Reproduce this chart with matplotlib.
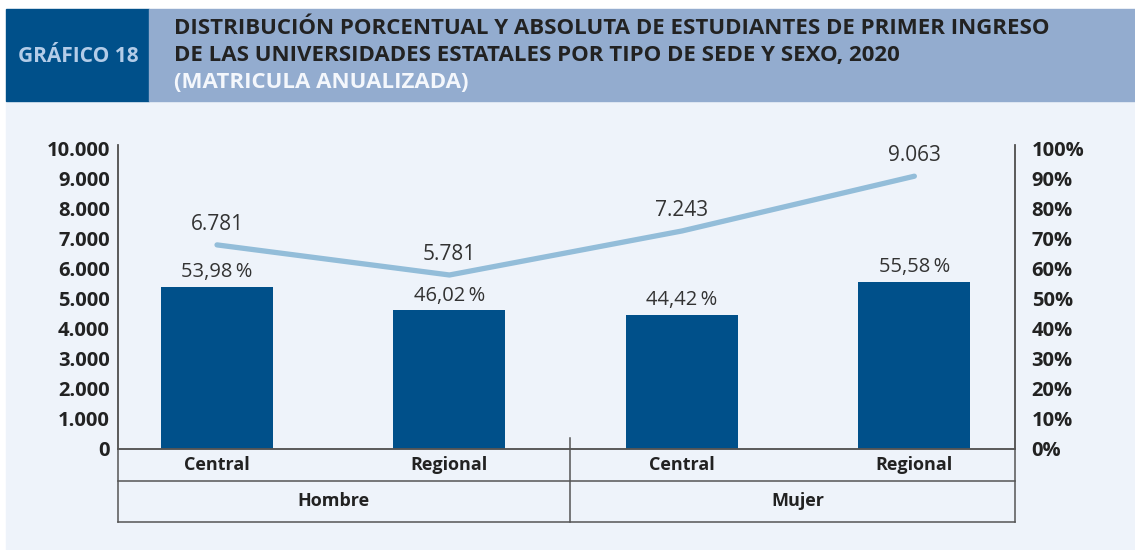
import matplotlib
matplotlib.use("Agg")
import matplotlib.pyplot as plt
from matplotlib.patches import Rectangle
from matplotlib.lines import Line2D

# datos del grafico
sede = ["Central", "Regional", "Central", "Regional"]
sexo = ["Hombre", "Mujer"]
porcentaje = [53.98, 46.02, 44.42, 55.58]
absoluto = [6781, 5781, 7243, 9063]
ticks_abs = [0, 1000, 2000, 3000, 4000, 5000, 6000, 7000, 8000, 9000, 10000]
ticks_pct = [0, 10, 20, 30, 40, 50, 60, 70, 80, 90, 100]

titulo = ["DISTRIBUCIÓN PORCENTUAL Y ABSOLUTA DE ESTUDIANTES DE PRIMER INGRESO",
          "DE LAS UNIVERSIDADES ESTATALES POR TIPO DE SEDE Y SEXO, 2020",
          "(MATRICULA ANUALIZADA)"]

plt.rcParams['font.family'] = ['Open Sans', 'DejaVu Sans']

W, H = 1135, 550
fig = plt.figure(figsize=(W / 100, H / 100), dpi=100)
fig.patch.set_facecolor("white")

def fx(px):
    return px / W

def fy(py):
    return 1 - py / H

# fondo y cabecera
fig.add_artist(Rectangle((fx(6), fy(550)), fx(1129), 449 / H, color="#eef3fa", zorder=0))
fig.add_artist(Rectangle((fx(6), fy(101)), fx(143), 92 / H, color="#00508a", zorder=0))
fig.add_artist(Rectangle((fx(149), fy(101)), fx(986), 92 / H, color="#93accf", zorder=0))
fig.text(fx(78), fy(57), "GRÁFICO 18", ha="center", va="center", fontsize=15,
         fontweight="bold", color="#b3cce8")
for i, linea in enumerate(titulo):
    fig.text(fx(174), fy(29 + i * 27), linea, ha="left", va="center", fontsize=16,
             fontweight="bold", color="#222222" if i < 2 else "#f4f7fc")

# ejes
ax = fig.add_axes([fx(118), fy(449), fx(1015 - 118), (449 - 145) / H])
ax2 = ax.twinx()
ax.set_zorder(ax2.get_zorder() + 1)
ax.patch.set_visible(False)
ax2.patch.set_visible(False)

x = list(range(len(sede)))
ax.set_xlim(-0.426, 3.433)
ymax = 10000 * (449 - 145) / (449 - 148)
ax.set_ylim(0, ymax)
ax2.set_ylim(0, ymax / 100)

bars = ax2.bar(x, porcentaje, width=112 / 232.5, color="#00508a", zorder=2)
ax.plot(x, absoluto, color="#93bdd9", lw=3.8, solid_capstyle="round", zorder=3)

for xi, v in zip(x, porcentaje):
    ax2.annotate(f"{v:.2f}\u2009%".replace(".", ","), (xi, v), xytext=(0, 3.5),
                 textcoords="offset points", ha="center", va="bottom",
                 fontsize=14.5, color="#333333")
for xi, v in zip(x, absoluto):
    ax.annotate(f"{v:,}".replace(",", "."), (xi, v), xytext=(0, 7),
                textcoords="offset points", ha="center", va="bottom",
                fontsize=15, color="#333333")

ax.set_yticks(ticks_abs)
ax.set_yticklabels([f"{t:,}".replace(",", ".") for t in ticks_abs], fontsize=14.5,
                   fontweight="bold", color="#222222")
ax2.set_yticks(ticks_pct)
ax2.set_yticklabels([f"{t}%" for t in ticks_pct], fontsize=14.5, fontweight="bold",
                    color="#222222")
ax.tick_params(axis="y", length=0, pad=6)
ax2.tick_params(axis="y", length=0, pad=12)
ax.set_xticks([])
ax2.set_xticks([])

for a in (ax, ax2):
    a.spines["top"].set_visible(False)
    for s in ("left", "right", "bottom"):
        a.spines[s].set_color("#555555")
        a.spines[s].set_linewidth(1.1)

# tabla de categorias debajo del eje
tr = ax.get_xaxis_transform()
h_fila1 = -32 / 304
h_fila2 = -73 / 304
for yy in (h_fila1, h_fila2):
    ax.add_line(Line2D([-0.426, 3.433], [yy, yy], transform=tr, color="#555555",
                       lw=1.1, clip_on=False))
for xx in (-0.426, 3.433):
    ax.add_line(Line2D([xx, xx], [0, h_fila2], transform=tr, color="#555555",
                       lw=1.1, clip_on=False))
ax.add_line(Line2D([1.52, 1.52], [11 / 304, h_fila2], transform=tr, color="#555555",
                   lw=1.1, clip_on=False))

for xi, s in zip(x, sede):
    ax.text(xi, h_fila1 / 2, s, transform=tr, ha="center", va="center", fontsize=13,
            fontweight="bold", color="#222222")
ax.text(0.5, (h_fila1 + h_fila2) / 2, sexo[0], transform=tr, ha="center", va="center",
        fontsize=13, fontweight="bold", color="#222222")
ax.text(2.5, (h_fila1 + h_fila2) / 2, sexo[1], transform=tr, ha="center", va="center",
        fontsize=13, fontweight="bold", color="#222222")

fig.savefig("out.png", dpi=100)
